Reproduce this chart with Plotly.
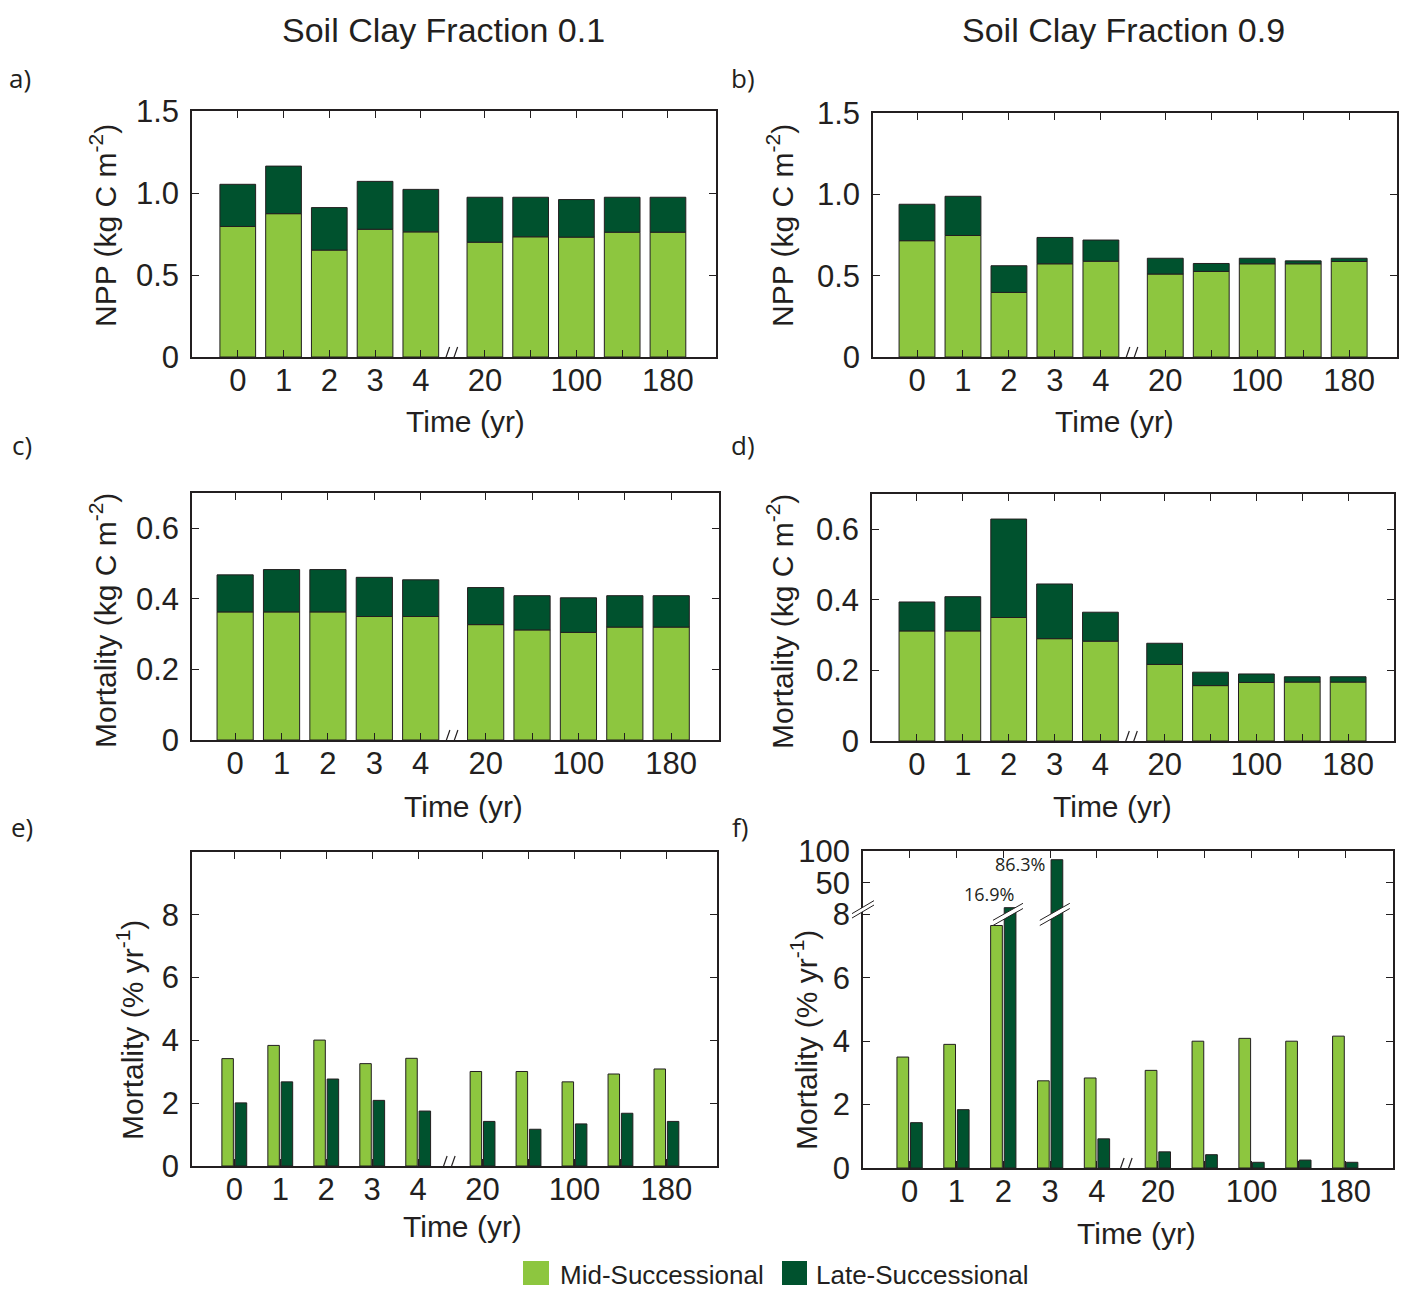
import plotly.graph_objects as go

W, H = 1403, 1290

# ---------------- data ----------------
time_labels = ["0", "1", "2", "3", "4", "20", "60", "100", "140", "180"]
tick_labels = ["0", "1", "2", "3", "4", "20", "", "100", "", "180"]

npp01_mid = [0.796, 0.874, 0.652, 0.779, 0.763, 0.700, 0.733, 0.731, 0.761, 0.761]
npp01_late = [0.257, 0.290, 0.259, 0.292, 0.259, 0.274, 0.241, 0.229, 0.213, 0.213]
npp09_mid = [0.715, 0.747, 0.397, 0.573, 0.589, 0.510, 0.526, 0.573, 0.573, 0.587]
npp09_late = [0.224, 0.241, 0.164, 0.162, 0.130, 0.097, 0.049, 0.034, 0.018, 0.020]
mort01_mid = [0.363, 0.363, 0.363, 0.350, 0.350, 0.327, 0.312, 0.305, 0.320, 0.320]
mort01_late = [0.105, 0.120, 0.120, 0.111, 0.104, 0.105, 0.097, 0.098, 0.089, 0.089]
mort09_mid = [0.312, 0.312, 0.350, 0.290, 0.283, 0.217, 0.157, 0.166, 0.167, 0.167]
mort09_late = [0.082, 0.097, 0.279, 0.155, 0.082, 0.060, 0.038, 0.024, 0.015, 0.015]
rate01_mid = [3.42, 3.84, 4.01, 3.26, 3.43, 3.01, 3.01, 2.68, 2.93, 3.09]
rate01_late = [2.01, 2.68, 2.77, 2.09, 1.75, 1.42, 1.17, 1.34, 1.68, 1.42]
rate09_mid = [3.50, 3.90, 7.65, 2.75, 2.84, 3.08, 4.00, 4.09, 4.00, 4.16]
rate09_late = [1.43, 1.84, 16.9, 86.3, 0.92, 0.51, 0.42, 0.18, 0.25, 0.18]

col_titles = ["Soil Clay Fraction 0.1", "Soil Clay Fraction 0.9"]
panel_letters = ["a)", "b)", "c)", "d)", "e)", "f)"]
series_names = ["Mid-Successional", "Late-Successional"]

# ---------------- style ----------------
MID = "#8dc63f"
LATE = "#00522e"
INK = "#231f20"
FONT = "Liberation Sans"
FONT2 = "Open Sans"


def broken(v):
    """Map value to the broken axis of panel f (0-8 linear, 8-50, 50-100)."""
    if v <= 8:
        return v
    if v <= 50:
        return 8 + (v - 8) / 42.0
    return 9 + (v - 50) / 50.0


def positions(gap):
    return [i + 1 if i < 5 else i + gap for i in range(len(time_labels))]


panels = [
    dict(box=(192, 111, 716, 357), xr=[0.0, 11.45], gap=1.4, yr=[0, 1.5],
         yt=[0, 0.5, 1.0, 1.5], ytt=["0", "0.5", "1.0", "1.5"], kind="stack",
         mid=npp01_mid, late=npp01_late,
         ytitle="NPP (kg C m<sup>-2</sup>)", ytpos=(103, 225), xtpos=(465, 421)),
    dict(box=(873, 113, 1397, 357), xr=[0.043, 11.44], gap=1.4, yr=[0, 1.5],
         yt=[0, 0.5, 1.0, 1.5], ytt=["0", "0.5", "1.0", "1.5"], kind="stack",
         mid=npp09_mid, late=npp09_late,
         ytitle="NPP (kg C m<sup>-2</sup>)", ytpos=(780, 226), xtpos=(1114, 421)),
    dict(box=(192, 493, 719, 740), xr=[0.07, 11.43], gap=1.4, yr=[0, 0.7],
         yt=[0, 0.2, 0.4, 0.6], ytt=["0", "0.2", "0.4", "0.6"], kind="stack",
         mid=mort01_mid, late=mort01_late,
         ytitle="Mortality (kg C m<sup>-2</sup>)", ytpos=(103, 620), xtpos=(463, 806)),
    dict(box=(872, 494, 1394, 741), xr=[0.02, 11.40], gap=1.4, yr=[0, 0.7],
         yt=[0, 0.2, 0.4, 0.6], ytt=["0", "0.2", "0.4", "0.6"], kind="stack",
         mid=mort09_mid, late=mort09_late,
         ytitle="Mortality (kg C m<sup>-2</sup>)", ytpos=(780, 622), xtpos=(1112, 806)),
    dict(box=(192, 852, 717, 1166), xr=[0.08, 11.5], gap=1.4, yr=[0, 10],
         yt=[0, 2, 4, 6, 8], ytt=["0", "2", "4", "6", "8"], kind="group",
         mid=rate01_mid, late=rate01_late,
         ytitle="Mortality (% yr<sup>-1</sup>)", ytpos=(130, 1030), xtpos=(462, 1226)),
    dict(box=(863, 851, 1393, 1168), xr=[0.005, 11.32], gap=1.3, yr=[0, 10],
         yt=[0, 2, 4, 6, 8, broken(50), broken(100)],
         ytt=["0", "2", "4", "6", "8", "50", "100"], kind="group",
         mid=rate09_mid, late=rate09_late,
         ytitle="Mortality (% yr<sup>-1</sup>)", ytpos=(804, 1040), xtpos=(1136, 1233)),
]
letter_pos = [(20, 78), (743, 78), (22, 445), (743, 445), (22, 827), (740, 827)]


def px(x):
    return x / W


def py(y):
    return 1 - y / H


fig = go.Figure()
shapes = []
annotations = []
layout_axes = {}

for k, p in enumerate(panels):
    n = "" if k == 0 else str(k + 1)
    xa, ya = "x" + n, "y" + n
    pos = positions(p["gap"])
    x0, y0, x1, y1 = p["box"]

    if p["kind"] == "stack":
        fig.add_bar(x=pos, y=p["mid"], xaxis=xa, yaxis=ya, width=0.78,
                    marker=dict(color=MID, line=dict(color=INK, width=1)),
                    name=series_names[0], showlegend=False, customdata=time_labels,
                    hovertemplate="%{customdata} yr: %{y}<extra>Mid</extra>")
        fig.add_bar(x=pos, y=p["late"], base=p["mid"], xaxis=xa, yaxis=ya, width=0.78,
                    marker=dict(color=LATE, line=dict(color=INK, width=1)),
                    name=series_names[1], showlegend=False, customdata=time_labels,
                    hovertemplate="%{customdata} yr: %{y}<extra>Late</extra>")
    else:
        late_disp = [broken(v) for v in p["late"]] if k == 5 else p["late"]
        fig.add_bar(x=pos, y=p["mid"], xaxis=xa, yaxis=ya, width=0.25, offset=-0.27,
                    marker=dict(color=MID, line=dict(color=INK, width=1)),
                    name=series_names[0], showlegend=False, customdata=time_labels,
                    hovertemplate="%{customdata} yr: %{y}<extra>Mid</extra>")
        fig.add_bar(x=pos, y=late_disp, xaxis=xa, yaxis=ya, width=0.25, offset=0.02,
                    marker=dict(color=LATE, line=dict(color=INK, width=1)),
                    name=series_names[1], showlegend=False, customdata=p["late"],
                    hovertemplate="%{customdata}<extra>Late</extra>")

    lab_vals = [v for v, t in zip(pos, tick_labels) if t]
    lab_text = [t for t in tick_labels if t]
    unlab_vals = [v for v, t in zip(pos, tick_labels) if not t]

    layout_axes["xaxis" + n] = dict(
        domain=[px(x0), px(x1)], anchor=ya, range=p["xr"], automargin=False,
        tickmode="array", tickvals=lab_vals, ticktext=lab_text,
        minor=dict(tickmode="array", tickvals=unlab_vals, ticks="inside",
                   ticklen=7, tickwidth=1, tickcolor=INK, showgrid=False),
        ticks="inside", ticklen=7, tickwidth=1, tickcolor=INK,
        showline=True, linecolor=INK, linewidth=1.5, mirror="ticks",
        showgrid=False, zeroline=False, ticklabelstandoff=-5,
        tickfont=dict(family=FONT, size=31, color=INK), fixedrange=True)
    layout_axes["yaxis" + n] = dict(
        domain=[py(y1), py(y0)], anchor=xa, range=p["yr"], automargin=False,
        tickmode="array", tickvals=p["yt"], ticktext=p["ytt"],
        ticks="inside", ticklen=7, tickwidth=1, tickcolor=INK,
        showline=True, linecolor=INK, linewidth=1.5, mirror="ticks",
        showgrid=False, zeroline=False, ticklabelstandoff=5,
        tickfont=dict(family=FONT, size=31, color=INK), fixedrange=True)

    # x-axis break marks "//"
    bx = 5 + p["gap"] / 2 - 0.06
    for dx in (-4, 4):
        shapes.append(dict(type="line", xref=xa, yref=ya,
                           xsizemode="pixel", ysizemode="pixel",
                           xanchor=bx, yanchor=0,
                           x0=dx - 3.5, x1=dx + 3.5, y0=-10, y1=10,
                           line=dict(color=INK, width=1.2)))

    # axis titles
    annotations.append(dict(text=p["ytitle"], x=px(p["ytpos"][0]), y=py(p["ytpos"][1]),
                            xref="paper", yref="paper", showarrow=False, textangle=-90,
                            xanchor="center", yanchor="middle",
                            font=dict(family=FONT, size=30, color=INK)))
    annotations.append(dict(text="Time (yr)", x=px(p["xtpos"][0]), y=py(p["xtpos"][1]),
                            xref="paper", yref="paper", showarrow=False,
                            xanchor="center", yanchor="middle",
                            font=dict(family=FONT, size=30, color=INK)))
    annotations.append(dict(text=panel_letters[k], x=px(letter_pos[k][0]),
                            y=py(letter_pos[k][1]), xref="paper", yref="paper",
                            showarrow=False, xanchor="center", yanchor="middle",
                            font=dict(family=FONT2, size=26, color=INK)))

# ----- broken y-axis extras for panel f -----
pf = panels[5]
posf = positions(pf["gap"])


def cut(xref, yref, xanc, yanc, hw, hh, th):
    """white parallelogram with two slanted edge lines"""
    out = []
    out.append(dict(type="path", xref=xref, yref=yref, xsizemode="pixel",
                    ysizemode="pixel", xanchor=xanc, yanchor=yanc,
                    path=f"M {-hw},{-hh - th} L {hw},{hh - th} L {hw},{hh + th} L {-hw},{-hh + th} Z",
                    fillcolor="white", line=dict(width=0), layer="above"))
    for s in (-th, th):
        out.append(dict(type="line", xref=xref, yref=yref, xsizemode="pixel",
                        ysizemode="pixel", xanchor=xanc, yanchor=yanc,
                        x0=-hw, x1=hw, y0=-hh + s, y1=hh + s,
                        line=dict(color=INK, width=1), layer="above"))
    return out


shapes += cut("x6 domain", "y6", 0, 8.16, 11, 6.5, 2.2)
for i, v in enumerate(pf["late"]):
    if v > 8:
        shapes += cut("x6", "y6", posf[i] + 0.10, 8.0, 15, 8.5, 2.6)
        annotations.append(dict(text=f"{v}%", x=posf[i] + 0.02, y=broken(v), xref="x6", yref="y6",
                                showarrow=False, xanchor="right", yanchor="middle",
                                xshift=12 if v < 50 else -4, yshift=14 if v < 50 else -4,
                                font=dict(family=FONT2, size=18, color=INK)))

# ----- column titles -----
for t, cx in zip(col_titles, (444, 1123)):
    annotations.append(dict(text=t, x=px(cx), y=py(30), xref="paper", yref="paper",
                            showarrow=False, xanchor="center", yanchor="middle",
                            font=dict(family=FONT, size=34, color=INK)))

# ----- legend -----
leg = [(523, 549, 558, MID, series_names[0]), (782, 807, 814, LATE, series_names[1])]
for sx0, sx1, tx, c, name in leg:
    shapes.append(dict(type="rect", xref="paper", yref="paper",
                       x0=px(sx0), x1=px(sx1), y0=py(1285), y1=py(1261),
                       fillcolor=c, line=dict(width=0)))
    annotations.append(dict(text=name, x=px(tx), y=py(1275), xref="paper", yref="paper",
                            showarrow=False, xanchor="left", yanchor="middle",
                            font=dict(family=FONT, size=26, color=INK)))

fig.update_layout(
    template="none",
    width=W, height=H, margin=dict(l=0, r=0, t=0, b=0, pad=0, autoexpand=False),
    paper_bgcolor="white", plot_bgcolor="white",
    barmode="overlay", showlegend=False,
    font=dict(family=FONT, color=INK),
    shapes=shapes, annotations=annotations, **layout_axes)

fig.write_html("out.html", config={"displayModeBar": False},
               post_script="document.body.style.margin='0';document.body.style.overflow='hidden';")
